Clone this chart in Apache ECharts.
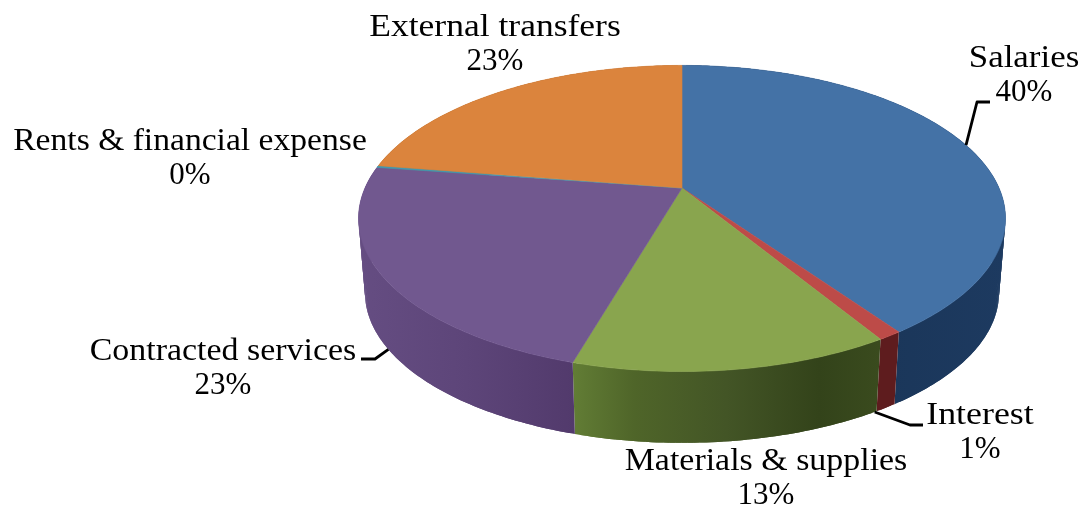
<!DOCTYPE html>
<html>
<head>
<meta charset="utf-8">
<style>html,body{margin:0;padding:0;background:#fff}#c{width:1080px;height:506px}</style>
<script src="https://cdn.jsdelivr.net/npm/echarts@6/dist/echarts.min.js"></script>
</head>
<body>
<div id="c"></div>
<script>
// Data
const categories = ['Salaries', 'Interest', 'Materials & supplies', 'Contracted services', 'Rents & financial expense', 'External transfers'];
const shares = [40.3, 1.0, 13.2, 22.8, 0.2, 22.5];

// Styles
const topColors = ['#4472a6', '#bd4b48', '#89a54e', '#71588f', '#4198af', '#db843d'];
const sideStops = [
  [[0, '#16304f'], [1, '#1d3a60']],
  [[0, '#5e1c1e'], [1, '#5e1c1e']],
  [[0, '#627d35'], [0.2, '#4f6529'], [0.5, '#435526'], [0.8, '#33431a'], [1, '#3a4b1e']],
  [[0, '#654d82'], [0.5, '#5d4579'], [1, '#523a6c']],
  [[0, '#2f7185'], [1, '#2f7185']],
  [[0, '#a4622c'], [1, '#a4622c']]
];

// Layout: the projection of the pie and where each label sits
const cx = 682, cyTop = 188, cyBottom = 263, k = 0.199, rx = 317, ry = 147, bottomScale = 0.98;
const labelCenters = [[1024, 59], [980, 416], [766, 462], [223, 352], [190, 142], [495, 28]];
const labelStretch = [1.09, 1.12, 1.06, 1.06, 1.05, 1.11];
const lineGap = 34;
// leader anchors: [fraction of the circle, rim level, elbow, end]
const leaders = [
  [0.2, 0, [977, 102], [990, 102]],
  [0.414, 1, [910, 425], [923, 425]],
  [0.66, 1, [375, 359], [361, 359]]
];

const total = shares.reduce((a, b) => a + b, 0);
const starts = [];
shares.reduce((acc, v, i) => { starts[i] = acc; return acc + v / total; }, 0);

function project(frac, bottom) {
  const t = 2 * Math.PI * frac, sx = Math.sin(t), fy = -Math.cos(t), w = 1 - k * fy;
  const s = bottom ? bottomScale : 1;
  return [cx + s * rx * sx / w, (bottom ? cyBottom : cyTop) + s * ry * fy / w];
}
function arc(from, to, bottom) {
  const n = Math.max(3, Math.ceil((to - from) * 400));
  const pts = [];
  for (let i = 0; i <= n; i++) pts.push(project(from + (to - from) * i / n, bottom));
  return pts;
}
const sliceData = shares.map((v, i) => [v, starts[i], starts[i] + v / total]);

const option = {
  backgroundColor: '#fff',
  animation: false,
  series: [
    {
      type: 'custom', coordinateSystem: 'none', silent: true, z: 1, data: sliceData,
      renderItem(params, api) {
        const a = api.value(1), b = api.value(2);
        const up = arc(a, b, false), down = arc(a, b, true);
        const xs = up.concat(down).map(p => p[0]);
        const x0 = Math.min.apply(null, xs), x1 = Math.max.apply(null, xs);
        const stops = sideStops[params.dataIndex].map(s => ({ offset: s[0], color: s[1] }));
        const fill = new echarts.graphic.LinearGradient(x0, 0, x1, 0, stops, true);
        const children = [];
        // overlapping quads, so that no seam shows between neighbours
        for (let i = 0; i + 2 < up.length; i++) {
          children.push({
            type: 'polygon', shape: { points: [up[i], up[i + 1], up[i + 2], down[i + 2], down[i + 1], down[i]] },
            style: { fill }
          });
        }
        return { type: 'group', children };
      }
    },
    {
      type: 'custom', coordinateSystem: 'none', silent: true, z: 2, data: sliceData,
      renderItem(params, api) {
        const a = api.value(1), b = api.value(2);
        const c = topColors[params.dataIndex];
        return {
          type: 'polygon', shape: { points: [[cx, cyTop]].concat(arc(a, b, false)) },
          style: { fill: c, stroke: c, lineWidth: 0.6 }
        };
      }
    },
    {
      type: 'custom', coordinateSystem: 'none', silent: true, z: 3, data: leaders.map((l, i) => [i]),
      renderItem(params) {
        const l = leaders[params.dataIndex];
        return {
          type: 'polyline', shape: { points: [project(l[0], l[1] === 1), l[2], l[3]] },
          style: { stroke: '#000', lineWidth: 2.8, fill: null, lineJoin: 'round' }
        };
      }
    },
    {
      type: 'custom', coordinateSystem: 'none', silent: true, z: 4, data: sliceData,
      renderItem(params, api) {
        const i = params.dataIndex, p = labelCenters[i];
        return {
          type: 'group',
          children: [
            { type: 'text', x: p[0], y: p[1], scaleX: labelStretch[i], style: { x: 0, y: 0, text: categories[i], font: '32px "Liberation Serif", serif', fill: '#000', align: 'center', verticalAlign: 'middle' } },
            { type: 'text', x: p[0], y: p[1] + lineGap, style: { x: 0, y: 0, text: Math.round(api.value(0) / total * 100) + '%', font: '31px "Liberation Serif", serif', fill: '#000', align: 'center', verticalAlign: 'middle' } }
          ]
        };
      }
    }
  ]
};
echarts.init(document.getElementById('c'), null, { renderer: 'canvas' }).setOption(option);
</script>
</body>
</html>
